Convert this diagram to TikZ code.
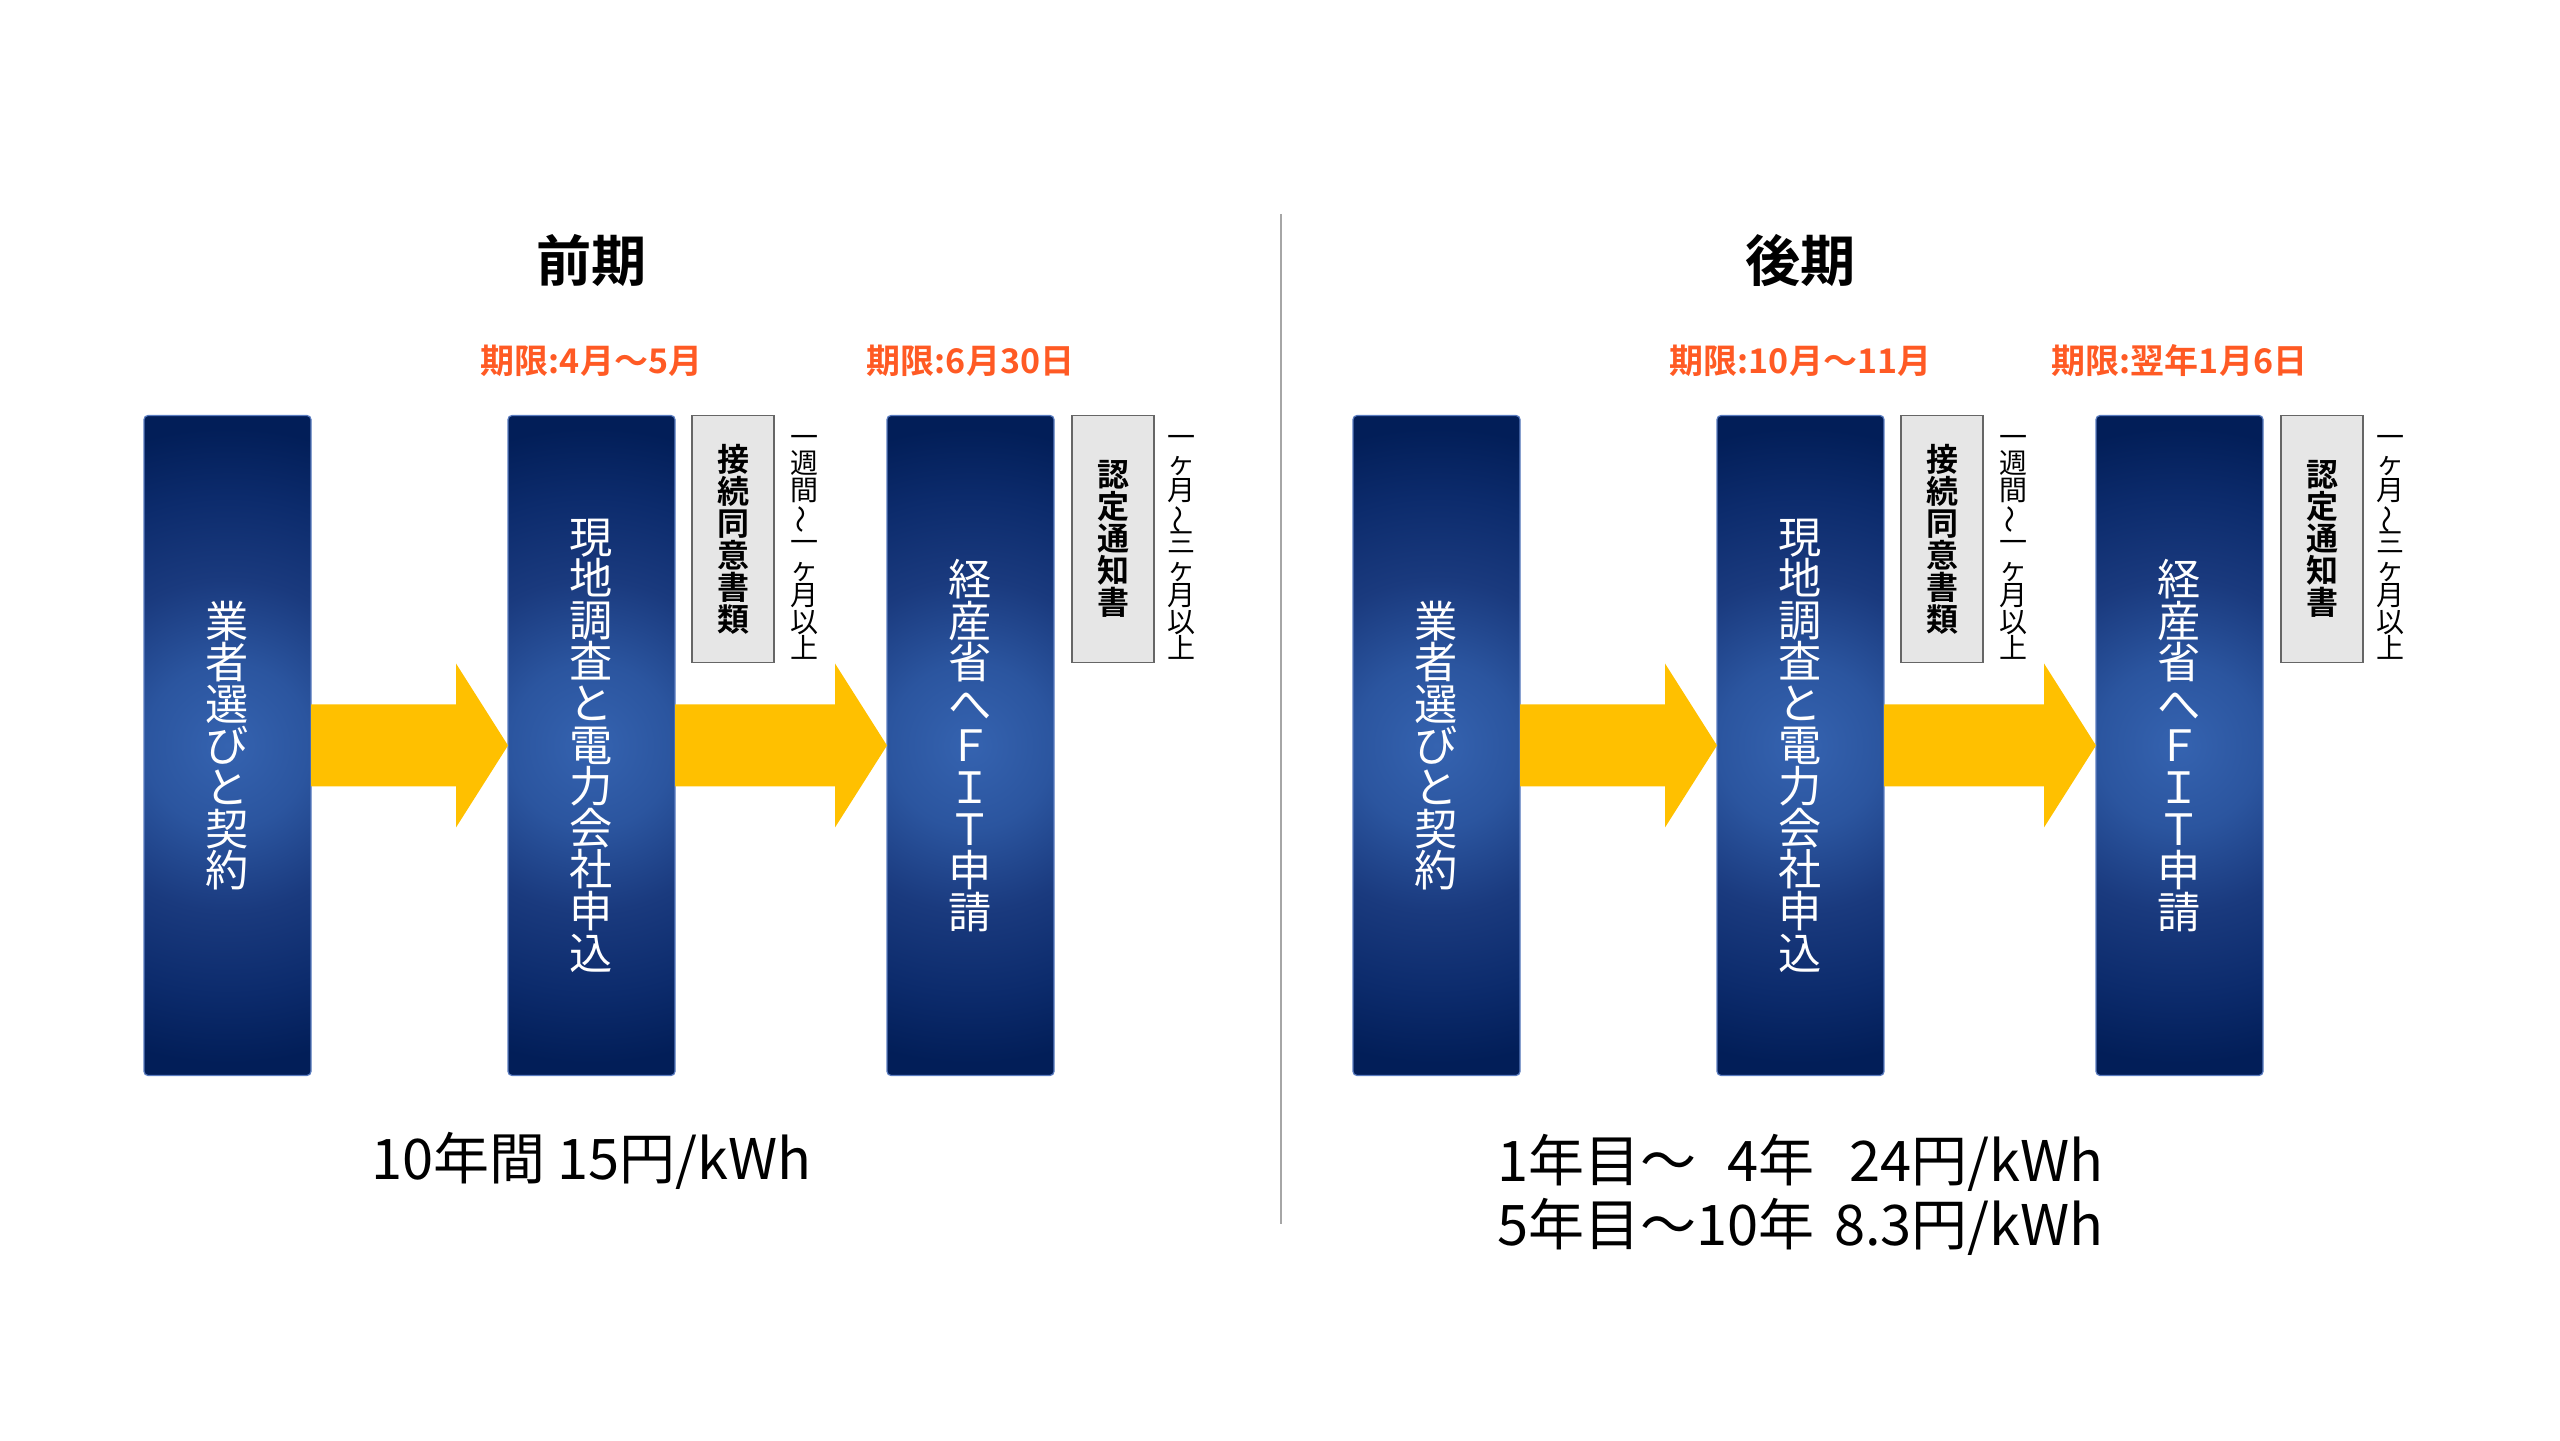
\documentclass[tikz,border=0pt]{standalone}
\usepackage{fontspec}
\setmainfont{Noto Sans CJK JP}[BoldFont={Noto Sans CJK JP Bold}]
\usetikzlibrary{positioning,calc}

\definecolor{boxdark}{HTML}{021E58}
\definecolor{glowouter}{HTML}{0C2B6C}
\definecolor{glowdeep}{HTML}{1A3A7E}
\definecolor{glowmid}{HTML}{2B559F}
\definecolor{glowin}{HTML}{3563B0}
\definecolor{boxedge}{HTML}{5A7CC0}
\definecolor{arrowfill}{HTML}{FFC000}
\definecolor{duecolor}{HTML}{FF5A24}
\definecolor{docfill}{HTML}{E6E6E6}
\definecolor{docedge}{HTML}{666666}
\definecolor{divider}{HTML}{A6A6A6}

\pgfdeclareradialshading{boxglow}{\pgfpoint{0bp}{0bp}}{color(0bp)=(glowin); color(12bp)=(glowmid); color(24bp)=(glowdeep); color(36bp)=(glowouter); color(46bp)=(boxdark); color(50bp)=(boxdark)}

\newcommand{\tightlines}{\lineskiplimit=-20pt\relax}
\tikzset{
  stepbox/.style={rectangle, rounded corners=1pt, draw=boxedge, line width=0.3pt,
    minimum width=41.75pt, minimum height=165pt, inner sep=0pt, outer sep=0pt,
    text=white, align=center, font=\fontsize{10.8}{10.4}\selectfont\tightlines,
    path picture={\pgftransformshift{\pgfpointanchor{path picture bounding box}{center}}%
      \pgftransformscale{1.72}\pgflowlevelsynccm\pgfuseshading{boxglow}}},
  docbox/.style={rectangle, draw=docedge, fill=docfill, line width=0.45pt,
    minimum width=20.5pt, minimum height=61.75pt, inner sep=0pt, outer sep=0pt,
    align=center, font=\fontsize{8}{8}\selectfont\bfseries\tightlines},
  spanlabel/.style={inner sep=0pt, align=center, font=\fontsize{7}{6.6}\selectfont\tightlines},
  termlabel/.style={inner sep=0pt, font=\fontsize{13.8}{14}\selectfont\bfseries},
  duelabel/.style={inner sep=0pt, text=duecolor, font=\fontsize{8.5}{9}\selectfont\bfseries},
  ratelabel/.style={inner sep=0pt, align=center, font=\fontsize{14}{15}\selectfont}
}

\newcommand{\vwave}{\rotatebox[origin=c]{90}{～}}
\newcommand{\flowarrow}[2]{%
  \fill[arrowfill] ($(#1.east)+(0,-41)$) -- ($(#2.west)+(-52,-41)$) -- ($(#2.west)+(-52,-82)$)
    -- (#2.west) -- ($(#2.west)+(-52,82)$) -- ($(#2.west)+(-52,41)$) -- ($(#1.east)+(0,41)$) -- cycle;}

\begin{document}
\begin{tikzpicture}[x=0.25pt, y=-0.25pt, node distance=49.25pt]
  \useasboundingbox (0,0) rectangle (2560,1441);

  % first period
  \node[stepbox] (sel-a) at (227.5,745.5) {業\\者\\選\\び\\と\\契\\約};
  \node[stepbox, right=of sel-a] (grid-a) {現\\地\\調\\査\\と\\電\\力\\会\\社\\申\\込};
  \node[stepbox, right=53pt of grid-a] (fit-a) {経\\産\\省\\へ\\Ｆ\\Ｉ\\Ｔ\\申\\請};
  \node[docbox, right=4.25pt of grid-a.north east, anchor=north west] (doc-a) {接\\続\\同\\意\\書\\類};
  \node[docbox, right=4.5pt of fit-a.north east, anchor=north west] (cert-a) {認\\定\\通\\知\\書};
  \node[spanlabel, anchor=north] (span-a1) at ($(doc-a.north east)+(30,19)$) {一\\週\\間\\\vwave\\一\\ヶ\\月\\以\\上};
  \node[spanlabel, anchor=north] (span-a2) at ($(cert-a.north east)+(27,19)$) {一\\ヶ\\月\\\vwave\\三\\ヶ\\月\\以\\上};
  \node[termlabel, above=32pt of grid-a] (term-a) {前期};
  \node[duelabel, above=9.5pt of grid-a] (due-a1) {期限:4月～5月};
  \node[duelabel, above=9.5pt of fit-a] (due-a2) {期限:6月30日};
  \node[ratelabel, below=14pt of grid-a] (rate-a) {10年間 15円/kWh};
  \flowarrow{sel-a}{grid-a}
  \flowarrow{grid-a}{fit-a}

  % divider
  \draw[divider, line width=0.5pt] (1281,214) -- (1281,1224);

  % second period
  \node[stepbox] (sel-b) at (1436.5,745.5) {業\\者\\選\\び\\と\\契\\約};
  \node[stepbox, right=of sel-b] (grid-b) {現\\地\\調\\査\\と\\電\\力\\会\\社\\申\\込};
  \node[stepbox, right=53pt of grid-b] (fit-b) {経\\産\\省\\へ\\Ｆ\\Ｉ\\Ｔ\\申\\請};
  \node[docbox, right=4.25pt of grid-b.north east, anchor=north west] (doc-b) {接\\続\\同\\意\\書\\類};
  \node[docbox, right=4.5pt of fit-b.north east, anchor=north west] (cert-b) {認\\定\\通\\知\\書};
  \node[spanlabel, anchor=north] (span-b1) at ($(doc-b.north east)+(30,19)$) {一\\週\\間\\\vwave\\一\\ヶ\\月\\以\\上};
  \node[spanlabel, anchor=north] (span-b2) at ($(cert-b.north east)+(27,19)$) {一\\ヶ\\月\\\vwave\\三\\ヶ\\月\\以\\上};
  \node[termlabel, above=32pt of grid-b] (term-b) {後期};
  \node[duelabel, above=9.5pt of grid-b] (due-b1) {期限:10月～11月};
  \node[duelabel, above=9.5pt of fit-b] (due-b2) {期限:翌年1月6日};
  \node[ratelabel, below=14.5pt of grid-b] (rate-b) {\renewcommand{\arraystretch}{0.94}%
    \begin{tabular}{@{}l@{}r@{}l@{\hspace{0.35em}}r@{}l@{}}
      1年目～ & 4 & 年 & 24 & 円/kWh\\
      5年目～ & 10 & 年 & 8.3 & 円/kWh
    \end{tabular}};
  \flowarrow{sel-b}{grid-b}
  \flowarrow{grid-b}{fit-b}
\end{tikzpicture}
\end{document}
